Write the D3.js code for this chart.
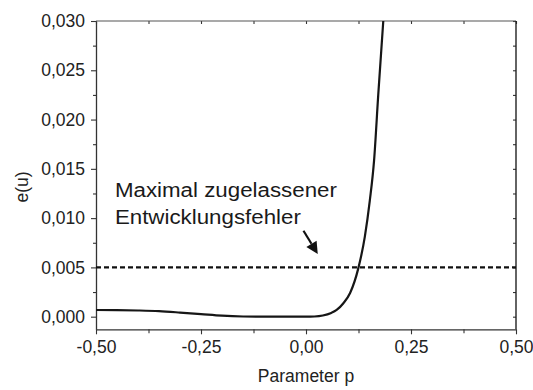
<!DOCTYPE html>
<html>
<head>
<meta charset="utf-8">
<script src="https://cdn.jsdelivr.net/npm/d3@7/dist/d3.min.js"></script>
<style>
  html, body { margin: 0; padding: 0; background: #fff; }
  svg { display: block; font-family: "Liberation Sans", Arial, sans-serif; }
  .tick text { fill: #222; }
</style>
</head>
<body>
<svg id="chart" width="533" height="390"></svg>
<script>
// Expansion error e(u) over the parameter p
const paramP = [-0.50, -0.45, -0.40, -0.35, -0.30, -0.25, -0.20, -0.15, -0.10, -0.05, 0.00, 0.02, 0.04, 0.06, 0.073, 0.089, 0.105, 0.1245, 0.140, 0.152, 0.162, 0.172, 0.184];
const errorE = [0.00068, 0.00067, 0.00063, 0.00056, 0.00042, 0.00026, 0.00010, 0.00002, 0.0, 0.0, 0.0, 0.00002, 0.00012, 0.00038, 0.00068, 0.00136, 0.0024, 0.0049, 0.0081, 0.0118, 0.0158, 0.0225, 0.0300];

// Maximum permitted error (threshold line)
const maxError = 0.005;

// Axis ticks
const xMajorTicks = [-0.50, -0.25, 0.00, 0.25, 0.50];
const xMinorTicks = [-0.375, -0.125, 0.125, 0.375];
const yMajorTicks = [0.000, 0.005, 0.010, 0.015, 0.020, 0.025, 0.030];
const yMinorTicks = [0.0025, 0.0075, 0.0125, 0.0175, 0.0225, 0.0275];

const annotationLines = ["Maximal zugelassener", "Entwicklungsfehler"];
const xTitle = "Parameter p";
const yTitle = "e(u)";

const svg = d3.select("#chart");
const plotL = 96, plotR = 516, plotT = 21, plotB = 329.3;

const x = d3.scaleLinear().domain([-0.5, 0.5]).range([plotL, plotR]);
const y = d3.scaleLinear().domain([-0.00128, 0.030]).range([plotB, plotT]);

const fmt = d => d3.format(".2f")(d).replace(".", ",").replace("−", "-");
const fmtY = d => d3.format(".3f")(d).replace(".", ",");

const axisColor = "#333";
const fontFamily = "'Liberation Sans', Arial, sans-serif";

// Minor ticks (drawn first so major ticks sit on top)
const minorAxis = (g, axis) => g.call(axis).call(s => s.selectAll("text").remove()).call(s => s.select(".domain").remove());

svg.append("g").attr("transform", `translate(0,${plotB})`)
  .call(g => minorAxis(g, d3.axisBottom(x).tickValues(xMinorTicks).tickSize(4)));
svg.append("g").attr("transform", `translate(${plotL},0)`)
  .call(g => minorAxis(g, d3.axisLeft(y).tickValues(yMinorTicks).tickSize(3)));
svg.append("g").attr("transform", `translate(0,${plotT})`)
  .call(g => minorAxis(g, d3.axisTop(x).tickValues(xMajorTicks.concat(xMinorTicks)).tickSize(-3)));
svg.append("g").attr("transform", `translate(${plotR},0)`)
  .call(g => minorAxis(g, d3.axisRight(y).tickValues(yMajorTicks.concat(yMinorTicks)).tickSize(-3)));

// Major axes
const xAxis = svg.append("g").attr("transform", `translate(0,${plotB})`)
  .call(d3.axisBottom(x).tickValues(xMajorTicks).tickFormat(fmt).tickSize(5).tickSizeOuter(0).tickPadding(6));
xAxis.selectAll("text").attr("font-size", 17.5).attr("dy", "0.75em");

const yAxis = svg.append("g").attr("transform", `translate(${plotL},0)`)
  .call(d3.axisLeft(y).tickValues(yMajorTicks).tickFormat(fmtY).tickSize(5).tickSizeOuter(0).tickPadding(6));
yAxis.selectAll("text").attr("font-size", 17.5);

// Frame: top and right border lines
svg.append("line").attr("x1", plotL).attr("x2", plotR).attr("y1", plotT).attr("y2", plotT)
  .attr("stroke", "#555").attr("stroke-width", 1.2);
svg.append("line").attr("x1", plotR).attr("x2", plotR).attr("y1", plotT).attr("y2", plotB)
  .attr("stroke", "#222").attr("stroke-width", 1.4);

svg.selectAll(".domain").attr("stroke", axisColor).attr("stroke-width", 1.3);
svg.selectAll(".tick line").attr("stroke", axisColor).attr("stroke-width", 1.1);
svg.selectAll("text").attr("font-family", fontFamily);

// Threshold line
svg.append("line")
  .attr("x1", x(-0.5)).attr("x2", x(0.5))
  .attr("y1", y(maxError)).attr("y2", y(maxError))
  .attr("stroke", "#111").attr("stroke-width", 2.2)
  .attr("stroke-dasharray", "5,3");

// Error curve
const line = d3.line()
  .x((d, i) => x(paramP[i]))
  .y(d => y(d))
  .curve(d3.curveMonotoneX);
svg.append("path")
  .datum(errorE)
  .attr("d", line)
  .attr("fill", "none")
  .attr("stroke", "#161616")
  .attr("stroke-width", 2.2);

// Annotation text, two lines stretched to the label width
const annWidths = [222, 186];
const ann = svg.append("text")
  .attr("font-size", 20)
  .attr("fill", "#1a1a1a")
  .attr("font-family", fontFamily);
annotationLines.forEach((t, i) => {
  ann.append("tspan")
    .attr("x", x(-0.455))
    .attr("y", 197 + i * 26.7)
    .attr("textLength", annWidths[i])
    .attr("lengthAdjust", "spacingAndGlyphs")
    .text(t);
});

// Arrow pointing at the threshold line
const ax1 = x(-0.006), ay1 = y(0.00872);
const ax2 = x(0.028), ay2 = y(0.00636);
const ang = Math.atan2(ay2 - ay1, ax2 - ax1);
const headLen = 12, headW = 6;
const bx = ax2 - headLen * Math.cos(ang), by = ay2 - headLen * Math.sin(ang);
svg.append("line")
  .attr("x1", ax1).attr("y1", ay1).attr("x2", bx).attr("y2", by)
  .attr("stroke", "#111").attr("stroke-width", 2.2);
svg.append("path")
  .attr("d", `M${ax2},${ay2} L${bx - headW * Math.sin(ang)},${by + headW * Math.cos(ang)} L${bx + headW * Math.sin(ang)},${by - headW * Math.cos(ang)} Z`)
  .attr("fill", "#111");

// Axis titles
svg.append("text")
  .attr("x", (plotL + plotR) / 2).attr("y", 382)
  .attr("text-anchor", "middle")
  .attr("font-size", 17.5).attr("fill", "#222")
  .attr("font-family", fontFamily)
  .text(xTitle);
svg.append("text")
  .attr("transform", `translate(28,187) rotate(-90)`)
  .attr("text-anchor", "middle")
  .attr("font-size", 17.5).attr("fill", "#222")
  .attr("font-family", fontFamily)
  .text(yTitle);
</script>
</body>
</html>
